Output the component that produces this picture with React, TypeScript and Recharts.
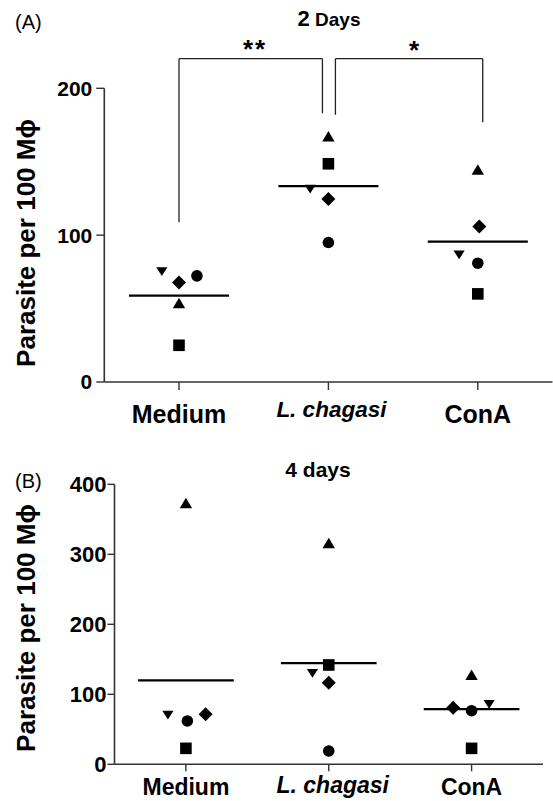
import React from 'react';
import { ScatterChart, Scatter, XAxis, YAxis, ReferenceLine } from 'recharts';

const groups = ['Medium', 'L. chagasi', 'ConA'];

// (A) 2 days: one value per group (Medium, L. chagasi, ConA)
const squareA = [25, 148.6, 60];
const circleA = [72.3, 95, 80.9];
const triangleA = [53.6, 167.2, 144.5];
const invTriangleA = [75.2, 131.4, 86.6];
const diamondA = [67.7, 124.7, 105.9];

// (B) 4 days
const squareB = [22.8, 141.9, 22.8];
const circleB = [61.9, 19, 76.6];
const triangleB = [372.8, 315.7, 127.6];
const invTriangleB = [70.4, 130, 85.7];
const diamondB = [71.4, 116.6, 80.9];

const ticksA = [0, 100, 200];
const ticksB = [0, 100, 200, 300, 400];

// significance brackets in panel A (x in group units, y in data units)
const bracketsA = [
  { x1: 0, x2: 0.96, y1: 108.7, y2: 183, top: 220.2, mark: '**' },
  { x1: 1.047, x2: 2.033, y1: 182, y2: 176.8, top: 220.2, mark: '*' },
];

// horizontal spread of overlapping symbols, per group
const jitterA = {
  square: [0, 0, 0],
  circle: [0.12, 0, 0],
  triangle: [0, 0, 0],
  invTriangle: [-0.115, -0.122, -0.125],
  diamond: [0, 0, 0.01],
};
const jitterB = {
  square: [0, 0, 0],
  circle: [0.01, 0, 0],
  triangle: [0, 0, 0],
  invTriangle: [-0.126, -0.114, 0.123],
  diamond: [0.138, 0, -0.129],
};

const FONT = '"Liberation Sans", Arial, Helvetica, sans-serif';
const INK = '#000';
const AXIS = '#333';
const HALF = 0.335;

type Kind = 'square' | 'circle' | 'triangle' | 'invTriangle' | 'diamond';

const marker = (kind: Kind) => (props: any) => {
  const { cx, cy } = props;
  if (cx == null || cy == null) return <g />;
  switch (kind) {
    case 'square':
      return <rect x={cx - 5.8} y={cy - 5.8} width={11.6} height={11.6} fill={INK} />;
    case 'circle':
      return <circle cx={cx} cy={cy} r={5.8} fill={INK} />;
    case 'triangle':
      return <polygon points={`${cx},${cy - 5.5} ${cx + 6.2},${cy + 5} ${cx - 6.2},${cy + 5}`} fill={INK} />;
    case 'invTriangle':
      return <polygon points={`${cx - 5.6},${cy - 4.3} ${cx + 5.6},${cy - 4.3} ${cx},${cy + 4.5}`} fill={INK} />;
    default:
      return <polygon points={`${cx},${cy - 7} ${cx + 7},${cy} ${cx},${cy + 7} ${cx - 7},${cy}`} fill={INK} />;
  }
};

const toPoints = (values: number[], jitter: number[]) =>
  values.map((y, i) => ({ x: i + jitter[i], y }));

const mean = (a: number[]) => a.reduce((s, v) => s + v, 0) / a.length;

const XTick = (props: any) => {
  const { x, y, payload, labelSize, italicSize, baseDy, italicDy, italicDx } = props;
  const i = Math.round(payload.value);
  const italic = i === 1;
  return (
    <text
      x={x + (italic ? italicDx : 0)}
      y={y + (italic ? italicDy : baseDy)}
      textAnchor="middle"
      fontFamily={FONT}
      fontWeight="bold"
      fontStyle={italic ? 'italic' : 'normal'}
      fontSize={italic ? italicSize : labelSize}
      fill={INK}
    >
      {groups[i]}
    </text>
  );
};

function Panel(props: any) {
  const { sets, jitter, yTicks, yMax, width, height, margin, yWidth, tickSize, tickMargin, yFont, xTick, brackets } = props;
  const kinds: Kind[] = ['square', 'circle', 'triangle', 'invTriangle', 'diamond'];
  return (
    <ScatterChart width={width} height={height} margin={margin}>
      <XAxis
        type="number"
        dataKey="x"
        domain={[-0.5, 2.5]}
        ticks={[0, 1, 2]}
        interval={0}
        allowDataOverflow
        height={height - margin.top - margin.bottom - props.plotHeight}
        tickSize={tickSize}
        tickMargin={0}
        axisLine={{ stroke: AXIS, strokeWidth: 1.6 }}
        tickLine={{ stroke: AXIS, strokeWidth: 1.4 }}
        tick={xTick}
      />
      <YAxis
        type="number"
        dataKey="y"
        domain={[0, yMax]}
        ticks={yTicks}
        interval={0}
        allowDataOverflow
        width={yWidth}
        tickSize={tickSize}
        tickMargin={tickMargin}
        axisLine={{ stroke: AXIS, strokeWidth: 1.6 }}
        tickLine={{ stroke: AXIS, strokeWidth: 1.4 }}
        tick={{ fontSize: yFont, fontWeight: 'bold', fill: INK, fontFamily: FONT }}
      />
      {kinds.map((k) => (
        <Scatter
          key={k}
          data={toPoints(sets[k], jitter[k])}
          shape={marker(k)}
          isAnimationActive={false}
        />
      ))}
      {groups.map((g, i) => (
        <ReferenceLine
          key={g}
          segment={[
            { x: i - HALF, y: mean(kinds.map((k) => sets[k][i])) },
            { x: i + HALF, y: mean(kinds.map((k) => sets[k][i])) },
          ]}
          stroke={INK}
          strokeWidth={2.2}
          ifOverflow="visible"
        />
      ))}
      {(brackets || []).flatMap((b: any, j: number) => [
        <ReferenceLine key={`v1${j}`} segment={[{ x: b.x1, y: b.y1 }, { x: b.x1, y: b.top }]} stroke="#222" strokeWidth={1.3} ifOverflow="visible" />,
        <ReferenceLine key={`h${j}`} segment={[{ x: b.x1, y: b.top }, { x: b.x2, y: b.top }]} stroke="#222" strokeWidth={1.3} ifOverflow="visible" />,
        <ReferenceLine key={`v2${j}`} segment={[{ x: b.x2, y: b.top }, { x: b.x2, y: b.y2 }]} stroke="#222" strokeWidth={1.3} ifOverflow="visible" />,
      ])}
    </ScatterChart>
  );
}

export default function App() {
  const setsA = { square: squareA, circle: circleA, triangle: triangleA, invTriangle: invTriangleA, diamond: diamondA };
  const setsB = { square: squareB, circle: circleB, triangle: triangleB, invTriangle: invTriangleB, diamond: diamondB };
  return (
    <div style={{ position: 'absolute', left: 0, top: 0, width: 553, height: 801, background: '#fff', fontFamily: FONT }}>
      <div style={{ position: 'absolute', left: 0, top: 0 }}>
        <Panel
          sets={setsA}
          jitter={jitterA}
          yTicks={ticksA}
          yMax={200}
          width={553}
          height={440}
          margin={{ top: 88.3, right: 0.5, bottom: 0, left: 0 }}
          plotHeight={293.7}
          yWidth={104.3}
          tickSize={8}
          tickMargin={4}
          yFont={21}
          brackets={bracketsA}
          xTick={<XTick labelSize={25} italicSize={22.5} baseDy={33} italicDy={27} italicDx={3} />}
        />
      </div>
      <div style={{ position: 'absolute', left: 0, top: 440 }}>
        <Panel
          sets={setsB}
          jitter={jitterB}
          yTicks={ticksB}
          yMax={400}
          width={553}
          height={361}
          margin={{ top: 44.3, right: 10, bottom: 0, left: 0 }}
          plotHeight={280}
          yWidth={114.5}
          tickSize={7}
          tickMargin={1}
          yFont={22}
          xTick={<XTick labelSize={23} italicSize={23} baseDy={23.7} italicDy={21.7} italicDx={4} />}
        />
      </div>
      <svg width={553} height={801} style={{ position: 'absolute', left: 0, top: 0, pointerEvents: 'none' }}>
        <g fontFamily={FONT} fill={INK}>
          <text x={15} y={29} fontSize={20}>(A)</text>
          <text x={15} y={488} fontSize={20}>(B)</text>
          <text x={329} y={26} textAnchor="middle" fontWeight="bold">
            <tspan fontSize={22}>2</tspan>
            <tspan fontSize={19}> Days</tspan>
          </text>
          <text x={318} y={477} textAnchor="middle" fontWeight="bold" fontSize={21}>4 days</text>
          <text x={255} y={58} textAnchor="middle" fontWeight="bold" fontSize={26} letterSpacing={2}>{bracketsA[0].mark}</text>
          <text x={414} y={59} textAnchor="middle" fontWeight="bold" fontSize={26}>{bracketsA[1].mark}</text>
          <text transform="translate(35 243) rotate(-90)" textAnchor="middle" fontWeight="bold" fontSize={26}>Parasite per 100 Mϕ</text>
          <text transform="translate(35 628) rotate(-90)" textAnchor="middle" fontWeight="bold" fontSize={26}>Parasite per 100 Mϕ</text>
        </g>
      </svg>
    </div>
  );
}
